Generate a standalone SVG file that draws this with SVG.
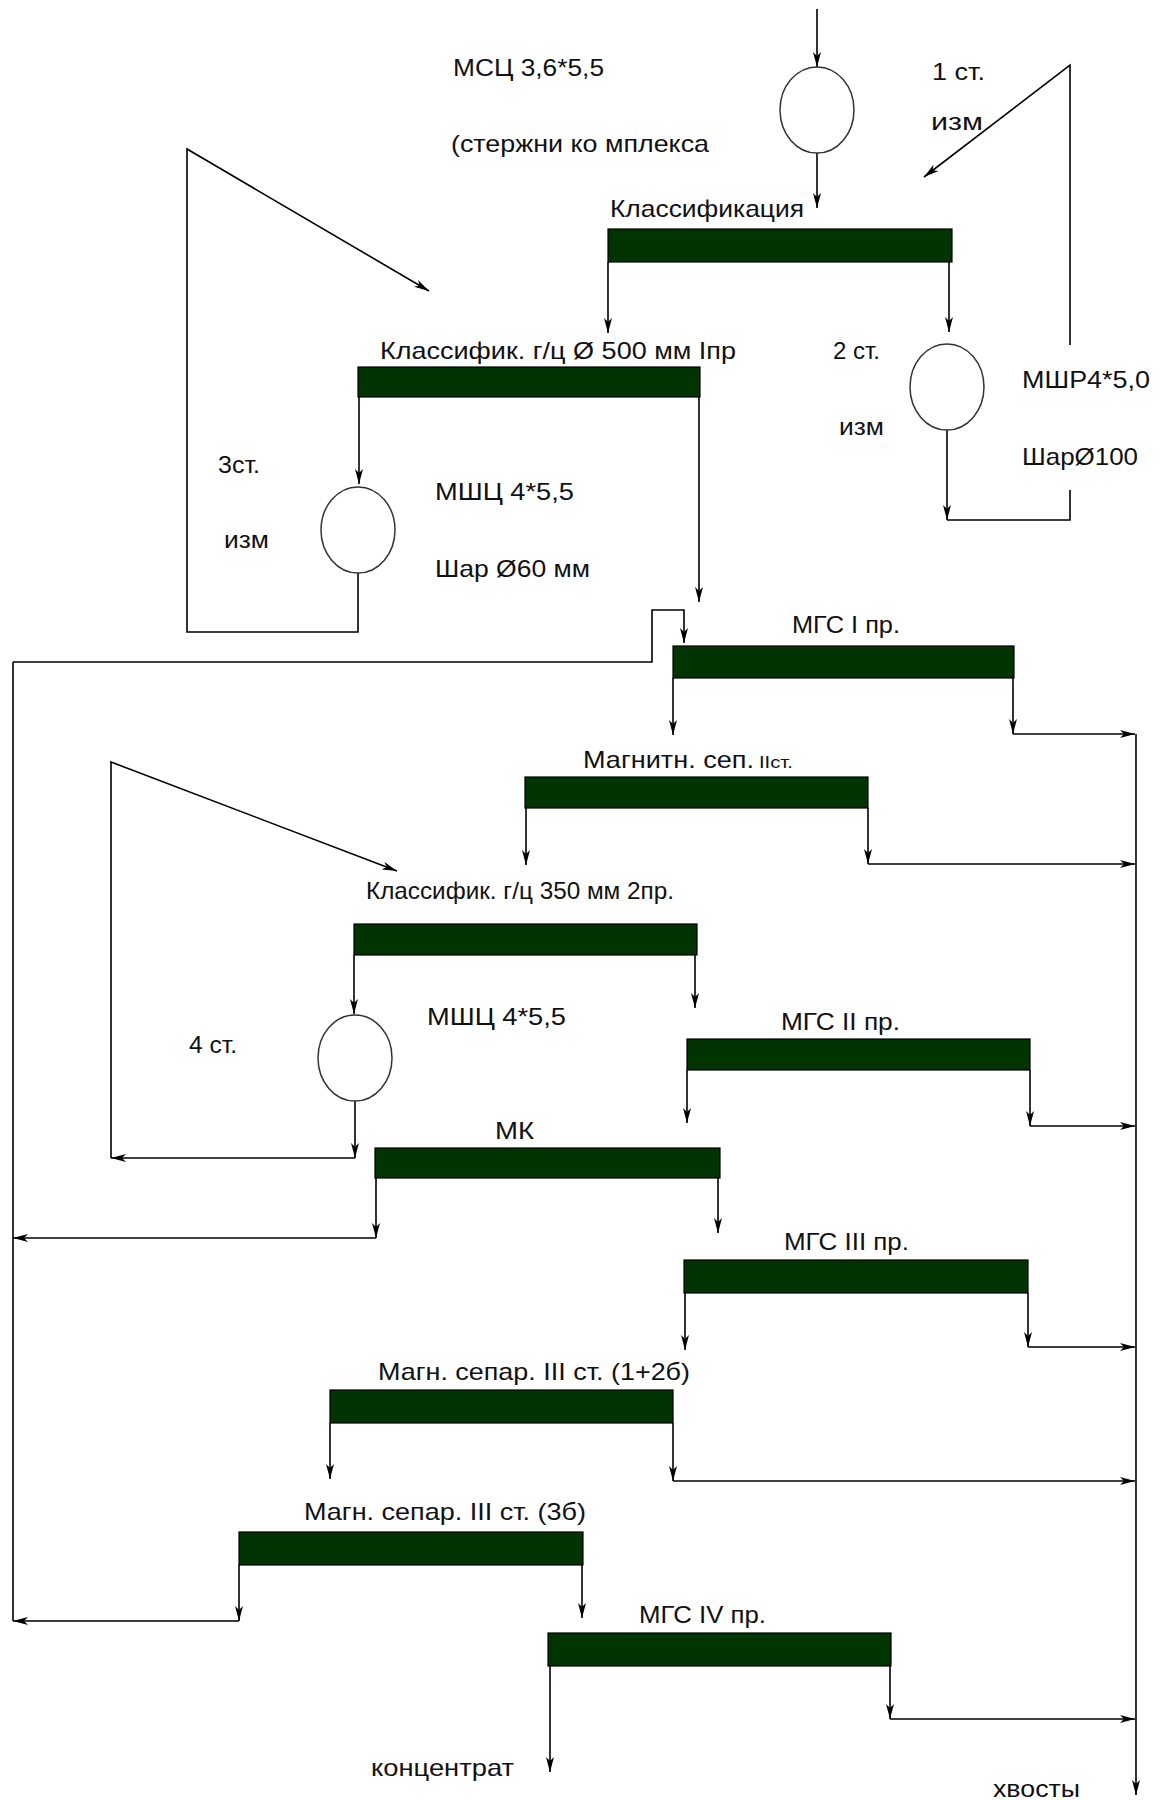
<svg xmlns="http://www.w3.org/2000/svg" width="1167" height="1800" viewBox="0 0 1167 1800">
<style>
text{font-family:"Liberation Sans",Arial,sans-serif;font-size:24px;fill:#111}
.sm{font-size:17px}
.bar{fill:#023302;stroke:#000;stroke-width:1.2}
.mill{fill:#fff;stroke:#333;stroke-width:1.5}
.ln{fill:none;stroke:#000;stroke-width:1.6}
.ar{fill:none;stroke:#000;stroke-width:1.6;marker-end:url(#ah)}
</style>
<defs>
<marker id="ah" viewBox="0 0 15 8" refX="15" refY="4" markerWidth="15" markerHeight="8" markerUnits="userSpaceOnUse" orient="auto">
<path d="M0,0 L15,4 L0,8 L4,4 Z" fill="#000"/>
</marker>
</defs>
<rect width="1167" height="1800" fill="#fff"/>

<g id="connectors">
<path class="ar" d="M817,9 V67"/>
<path class="ar" d="M817,153 V208"/>
<path class="ar" d="M608,262 V333"/>
<path class="ar" d="M949,262 V332"/>
<path class="ar" d="M947,430 V520"/>
<path class="ln" d="M947,520 H1070 V490"/>
<path class="ar" d="M1070,345 V65 L924,177"/>
<path class="ar" d="M359,397 V484"/>
<path class="ar" d="M358,573 V632 H187 V149 L429,291"/>
<path class="ar" d="M699,397 V602"/>
<path class="ar" d="M13,662 H652 V610 H684 V643"/>
<path class="ln" d="M13,662 V1621"/>
<path class="ar" d="M673,678 V735"/>
<path class="ar" d="M1013,678 V734"/>
<path class="ar" d="M1013,734 H1135"/>
<path class="ar" d="M1136,734 V1795"/>
<path class="ar" d="M526,808 V865"/>
<path class="ar" d="M868,808 V864"/>
<path class="ar" d="M868,864 H1135"/>
<path class="ar" d="M354,955 V1014"/>
<path class="ar" d="M355,1101 V1158"/>
<path class="ar" d="M355,1158 H111"/>
<path class="ar" d="M111,1158 V762 L397,871"/>
<path class="ar" d="M695,955 V1008"/>
<path class="ar" d="M687,1070 V1123"/>
<path class="ar" d="M1030,1070 V1126"/>
<path class="ar" d="M1030,1126 H1135"/>
<path class="ar" d="M376,1178 V1238"/>
<path class="ar" d="M376,1238 H13"/>
<path class="ar" d="M718,1178 V1233"/>
<path class="ar" d="M685,1293 V1350"/>
<path class="ar" d="M1028,1293 V1347"/>
<path class="ar" d="M1028,1347 H1135"/>
<path class="ar" d="M330,1423 V1479"/>
<path class="ar" d="M673,1423 V1481"/>
<path class="ar" d="M673,1481 H1135"/>
<path class="ar" d="M239,1565 V1621"/>
<path class="ar" d="M239,1621 H13"/>
<path class="ar" d="M582,1565 V1618"/>
<path class="ar" d="M550,1666 V1772"/>
<path class="ar" d="M890,1666 V1719"/>
<path class="ar" d="M890,1719 H1135"/>
</g>

<g id="mill1">
<ellipse class="mill" cx="817" cy="110" rx="37" ry="43"/>
<text x="453" y="76" textLength="151" lengthAdjust="spacingAndGlyphs">МСЦ 3,6*5,5</text>
<text x="451" y="152" textLength="258" lengthAdjust="spacingAndGlyphs">(стержни ко мплекса</text>
<text x="932" y="80" textLength="53" lengthAdjust="spacingAndGlyphs">1 ст.</text>
<text x="931" y="130" textLength="52" lengthAdjust="spacingAndGlyphs">изм</text>
</g>

<g id="classif1">
<rect class="bar" x="608" y="229" width="344" height="33"/>
<text x="610" y="217" textLength="194" lengthAdjust="spacingAndGlyphs">Классификация</text>
</g>

<g id="mill2">
<ellipse class="mill" cx="947" cy="387" rx="37" ry="43"/>
<text x="833" y="359" textLength="47" lengthAdjust="spacingAndGlyphs">2 ст.</text>
<text x="839" y="435" textLength="45" lengthAdjust="spacingAndGlyphs">изм</text>
<text x="1022" y="388" textLength="128" lengthAdjust="spacingAndGlyphs">МШР4*5,0</text>
<text x="1022" y="465" textLength="116" lengthAdjust="spacingAndGlyphs">ШарØ100</text>
</g>

<g id="classif2">
<rect class="bar" x="358" y="367" width="342" height="30"/>
<text x="380" y="359" textLength="356" lengthAdjust="spacingAndGlyphs">Классифик. г/ц Ø 500 мм Iпр</text>
</g>

<g id="mill3">
<ellipse class="mill" cx="358" cy="530" rx="37" ry="43"/>
<text x="218" y="473" textLength="42" lengthAdjust="spacingAndGlyphs">3ст.</text>
<text x="224" y="548" textLength="45" lengthAdjust="spacingAndGlyphs">изм</text>
<text x="435" y="500" textLength="139" lengthAdjust="spacingAndGlyphs">МШЦ 4*5,5</text>
<text x="435" y="577" textLength="155" lengthAdjust="spacingAndGlyphs">Шар Ø60 мм</text>
</g>

<g id="mgs1">
<rect class="bar" x="673" y="646" width="341" height="32"/>
<text x="792" y="633" textLength="108" lengthAdjust="spacingAndGlyphs">МГС I пр.</text>
</g>

<g id="magsep2">
<rect class="bar" x="525" y="777" width="343" height="31"/>
<text x="583" y="768" textLength="171" lengthAdjust="spacingAndGlyphs">Магнитн. сеп.</text>
<text class="sm" x="759" y="768" textLength="34" lengthAdjust="spacingAndGlyphs">IIст.</text>
</g>

<g id="classif3">
<rect class="bar" x="354" y="924" width="343" height="31"/>
<text x="366" y="899" textLength="308" lengthAdjust="spacingAndGlyphs">Классифик. г/ц 350 мм 2пр.</text>
</g>

<g id="mill4">
<ellipse class="mill" cx="355" cy="1058" rx="37" ry="43"/>
<text x="189" y="1053" textLength="48" lengthAdjust="spacingAndGlyphs">4 ст.</text>
<text x="427" y="1025" textLength="139" lengthAdjust="spacingAndGlyphs">МШЦ 4*5,5</text>
</g>

<g id="mgs2">
<rect class="bar" x="687" y="1039" width="343" height="31"/>
<text x="781" y="1030" textLength="119" lengthAdjust="spacingAndGlyphs">МГС II пр.</text>
</g>

<g id="mk">
<rect class="bar" x="375" y="1148" width="345" height="30"/>
<text x="495" y="1139" textLength="39" lengthAdjust="spacingAndGlyphs">МК</text>
</g>

<g id="mgs3">
<rect class="bar" x="684" y="1260" width="344" height="33"/>
<text x="784" y="1250" textLength="125" lengthAdjust="spacingAndGlyphs">МГС III пр.</text>
</g>

<g id="magsep3a">
<rect class="bar" x="330" y="1390" width="343" height="33"/>
<text x="378" y="1380" textLength="312" lengthAdjust="spacingAndGlyphs">Магн. сепар. III ст. (1+2б)</text>
</g>

<g id="magsep3b">
<rect class="bar" x="239" y="1532" width="344" height="33"/>
<text x="304" y="1520" textLength="282" lengthAdjust="spacingAndGlyphs">Магн. сепар. III ст. (3б)</text>
</g>

<g id="mgs4">
<rect class="bar" x="548" y="1633" width="343" height="33"/>
<text x="639" y="1623" textLength="127" lengthAdjust="spacingAndGlyphs">МГС IV пр.</text>
</g>

<g id="outputs">
<text x="371" y="1776" textLength="143" lengthAdjust="spacingAndGlyphs">концентрат</text>
<text x="993" y="1797" textLength="87" lengthAdjust="spacingAndGlyphs">хвосты</text>
</g>
</svg>
